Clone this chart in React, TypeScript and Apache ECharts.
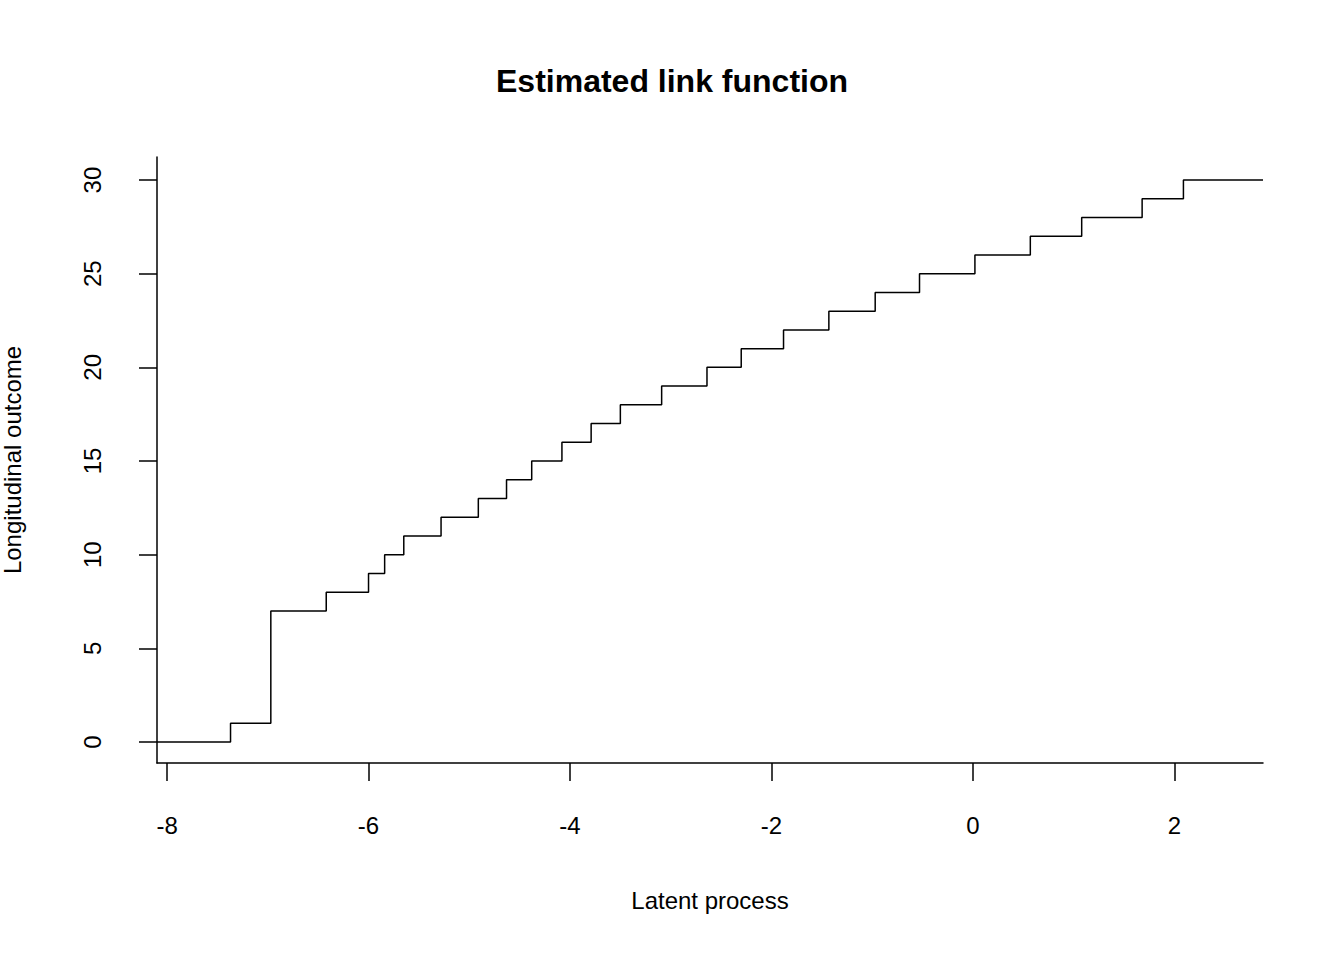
import { useEffect, useRef } from "react";
import * as echarts from "echarts";

// step breakpoints (latent process) and outcome levels held from each
const breaks = [-8.1, -7.37, -6.97, -6.42, -6.0, -5.84, -5.65, -5.28, -4.91, -4.63, -4.38, -4.08, -3.79, -3.5, -3.09, -2.64, -2.3, -1.88, -1.43, -0.97, -0.53, 0.02, 0.57, 1.08, 1.68, 2.09, 2.88];
const levels = [0, 1, 7, 8, 9, 10, 11, 12, 13, 14, 15, 16, 17, 18, 19, 20, 21, 22, 23, 24, 25, 26, 27, 28, 29, 30, 30];
const xTicks = [-8, -6, -4, -2, 0, 2];
const yTicks = [0, 5, 10, 15, 20, 25, 30];

const font = "'Liberation Sans', Arial, sans-serif";

const App = () => {
  const chartRef = useRef(null);

  useEffect(() => {
    if (!chartRef.current) return;
    const chart = echarts.init(chartRef.current, null, { renderer: "svg" });
    chart.setOption({
      animation: false,
      backgroundColor: "#fff",
      title: {
        text: "Estimated link function",
        left: "center",
        top: 60,
        textStyle: { fontFamily: font, fontSize: 32, fontWeight: "bold", color: "#000" },
      },
      grid: { left: 157, right: 81, top: 157, bottom: 197, containLabel: false, outerBoundsMode: "none" },
      xAxis: {
        type: "value",
        min: -8.1,
        max: 2.88,
        name: "Latent process",
        nameLocation: "middle",
        nameGap: 125,
        nameTextStyle: { fontFamily: font, fontSize: 24, color: "#000" },
        axisLine: { show: true, onZero: false, lineStyle: { color: "#000", width: 1.5 } },
        axisTick: { show: true, length: 18, customValues: xTicks, lineStyle: { color: "#000", width: 1.5 } },
        axisLabel: { customValues: xTicks, margin: 50, fontFamily: font, fontSize: 24, color: "#000" },
        splitLine: { show: false },
      },
      yAxis: {
        type: "value",
        min: -1.12,
        max: 31.23,
        name: "Longitudinal outcome",
        nameLocation: "middle",
        nameGap: 133,
        nameTextStyle: { fontFamily: font, fontSize: 24, color: "#000" },
        axisLine: { show: true, onZero: false, lineStyle: { color: "#000", width: 1.5 } },
        axisTick: { show: true, length: 18, customValues: yTicks, lineStyle: { color: "#000", width: 1.5 } },
        axisLabel: { customValues: yTicks, rotate: 90, margin: 53, fontFamily: font, fontSize: 24, color: "#000" },
        splitLine: { show: false },
      },
      series: [
        {
          type: "line",
          step: "end",
          data: breaks.map((x, i) => [x, levels[i]]),
          showSymbol: false,
          lineStyle: { color: "#000", width: 1.5 },
        },
      ],
    });
    return () => chart.dispose();
  }, []);

  return <div ref={chartRef} style={{ position: "fixed", left: 0, top: 0, width: 1344, height: 960 }} />;
};

export default App;
